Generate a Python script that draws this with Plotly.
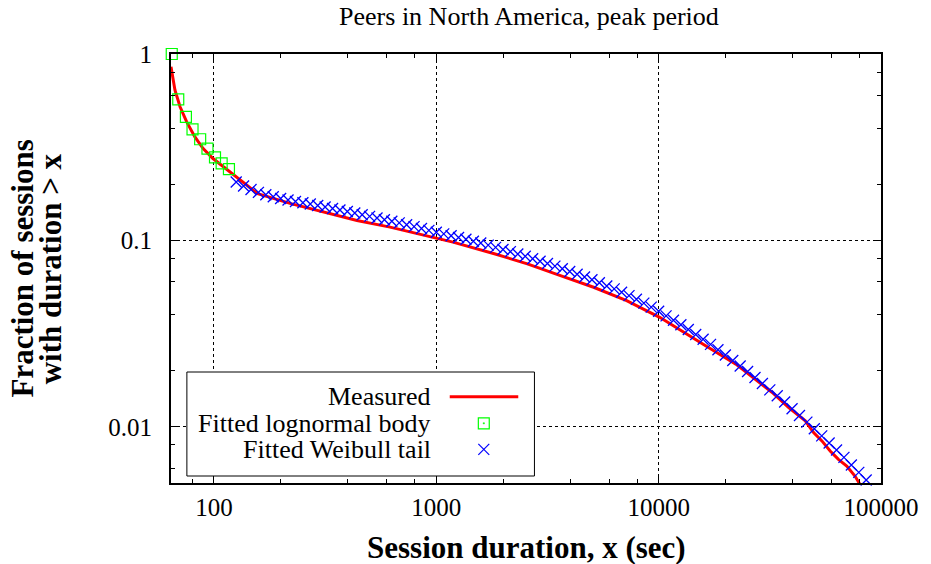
import math
import plotly.graph_objects as go

# ---------------- data ----------------
measured_x = [64.1, 66.8, 70.4, 75.4, 82.1, 89.4, 99.0, 108.0, 117.6, 128.0,
              157.3, 221.8, 312.2, 439.7, 619.6, 872.9, 1188, 1824, 2568, 3617,
              5098, 7180, 10110, 15795, 22247, 29750, 32430, 38470, 45670, 49750,
              54230, 59060, 64340, 70140, 76360, 81230]
measured_frac = [0.855, 0.640, 0.521, 0.4325, 0.359, 0.311, 0.275, 0.253, 0.233, 0.2147,
                 0.1782, 0.1575, 0.142, 0.128, 0.1179, 0.1064, 0.0979, 0.0848, 0.0749, 0.0648,
                 0.0561, 0.0476, 0.0387, 0.0278, 0.0217, 0.01656, 0.01529, 0.01270, 0.01077, 0.00932,
                 0.00841, 0.00743, 0.0067, 0.00617, 0.00545, 0.00482]

lognormal_x = [64.6, 69.1, 74.8, 80.1, 86.7, 93.5, 101.1, 108.3, 116.8]
lognormal_frac = [1.0, 0.571, 0.460, 0.394, 0.349, 0.311, 0.279, 0.259, 0.241]

weibull_x = [125.9, 135.9, 146.8, 158.5, 171.1, 184.8, 199.5, 215.4, 232.6, 251.2,
             271.2, 292.9, 316.2, 341.5, 368.7, 398.1, 429.9, 464.2, 501.2, 541.2,
             584.3, 631.0, 681.3, 735.6, 794.3, 857.7, 926.1,
             1000, 1080, 1166, 1259, 1359, 1468, 1585, 1711, 1848, 1995,
             2154, 2326, 2512, 2712, 2929, 3162, 3415, 3687, 3981, 4299,
             4642, 5012, 5412, 5843, 6310, 6813, 7356, 7943, 8577, 9261,
             10000, 10798, 11659, 12589, 13594, 14678, 15849, 17113, 18478, 19953,
             21544, 23263, 25119, 27123, 29286, 31623, 34145, 36869, 39811, 42987,
             46416, 50119, 54117, 58434, 63096, 68129, 73564, 79433, 85770]
weibull_frac = [0.2056, 0.1959, 0.1875, 0.1811, 0.1758, 0.1714, 0.1679, 0.1648, 0.1618, 0.1592,
                0.1567, 0.1538, 0.1510, 0.1483, 0.1455, 0.1429, 0.1403, 0.1374, 0.1346, 0.1318,
                0.1291, 0.1268, 0.1242, 0.1213, 0.1186, 0.1159, 0.1132, 0.1107,
                0.1084, 0.1059, 0.1038, 0.1014, 0.0991, 0.0968, 0.0944, 0.0918, 0.0895, 0.0871,
                0.0845, 0.0822, 0.0798, 0.0774, 0.0752, 0.0728, 0.0705, 0.0682, 0.0659, 0.0637,
                0.0615, 0.0593, 0.0570, 0.0550, 0.0527, 0.0506, 0.0484, 0.0461, 0.0439, 0.0417,
                0.0394, 0.0373, 0.0353, 0.0333, 0.0313, 0.0295, 0.0277, 0.0259, 0.0243, 0.0227,
                0.0212, 0.0198, 0.0184, 0.0171, 0.0158, 0.0147, 0.0136, 0.0125, 0.0115, 0.0106,
                0.00977, 0.00895, 0.00820, 0.00752, 0.00686, 0.00625, 0.00570, 0.00519]

x_tick_vals = [100, 1000, 10000, 100000]
x_tick_text = ["100", "1000", "10000", "100000"]
x_minor_vals = [80, 200, 400, 600, 800, 2000, 4000, 6000, 8000,
                20000, 40000, 60000, 80000]
y_tick_vals = [0.01, 0.1, 1]
y_tick_text = ["0.01", "0.1", "1"]
y_minor_vals = [0.006, 0.008, 0.02, 0.04, 0.06, 0.08, 0.2, 0.4, 0.6, 0.8]

x_range = [64.1, 100000]
y_range = [0.005, 1]

series_names = ["Measured", "Fitted lognormal body", "Fitted Weibull tail"]
title_text = "Peers in North America, peak period"
x_title = "Session duration, x (sec)"
y_title_lines = ["Fraction of sessions", "with duration > x"]

# ---------------- styles ----------------
FONT = "Liberation Serif, Times New Roman, serif"
RED = "#ff0000"
GREEN = "#00ff00"
BLUE = "#0000ff"

W, H = 931, 564
ML, MR, MT, MB = 171, 45, 54, 81
PW, PH = W - ML - MR, H - MT - MB


def px_x(px):
    return (px - ML) / PW


def px_y(py):
    return (H - MB - py) / PH


fig = go.Figure()

fig.add_trace(go.Scatter(x=measured_x, y=measured_frac, mode="lines",
                         line=dict(color=RED, width=3), name=series_names[0],
                         showlegend=False))
fig.add_trace(go.Scatter(x=lognormal_x, y=lognormal_frac, mode="markers",
                         marker=dict(symbol="square-open", size=11, color=GREEN,
                                     line=dict(color=GREEN, width=1.2)),
                         name=series_names[1], showlegend=False, cliponaxis=False))
fig.add_trace(go.Scatter(x=weibull_x, y=weibull_frac, mode="markers",
                         marker=dict(symbol="x-thin", size=11, color=BLUE,
                                     line=dict(color=BLUE, width=1.3)),
                         name=series_names[2], showlegend=False, cliponaxis=False))

# ---- custom key (text right-aligned, samples on the right, like gnuplot) ----
key_rows_py = [396.7, 423.3, 449.3]
key_text_px = 435
sample_px = [451.7, 520.7]
sample_mid_px = 486
half = 5.5

shapes = [
    dict(type="rect", xref="paper", yref="paper",
         x0=px_x(187), x1=px_x(537), y0=px_y(476), y1=px_y(372),
         line=dict(color="black", width=1), fillcolor="white", layer="above"),
    dict(type="line", xref="paper", yref="paper",
         x0=px_x(sample_px[0]), x1=px_x(sample_px[1]),
         y0=px_y(key_rows_py[0]), y1=px_y(key_rows_py[0]),
         line=dict(color=RED, width=3), layer="above"),
    dict(type="rect", xref="paper", yref="paper",
         x0=px_x(sample_mid_px - half), x1=px_x(sample_mid_px + half),
         y0=px_y(key_rows_py[1] + half), y1=px_y(key_rows_py[1] - half),
         line=dict(color=GREEN, width=1.2), fillcolor="rgba(0,0,0,0)", layer="above"),
    dict(type="rect", xref="paper", yref="paper",
         x0=px_x(sample_mid_px - 0.6), x1=px_x(sample_mid_px + 0.6),
         y0=px_y(key_rows_py[1] + 0.6), y1=px_y(key_rows_py[1] - 0.6),
         line=dict(color=GREEN, width=0.5), fillcolor=GREEN, layer="above"),
    dict(type="line", xref="paper", yref="paper",
         x0=px_x(sample_mid_px - half), x1=px_x(sample_mid_px + half),
         y0=px_y(key_rows_py[2] + half), y1=px_y(key_rows_py[2] - half),
         line=dict(color=BLUE, width=1.2), layer="above"),
    dict(type="line", xref="paper", yref="paper",
         x0=px_x(sample_mid_px - half), x1=px_x(sample_mid_px + half),
         y0=px_y(key_rows_py[2] - half), y1=px_y(key_rows_py[2] + half),
         line=dict(color=BLUE, width=1.2), layer="above"),
]

annotations = []
for name, py in zip(series_names, key_rows_py):
    annotations.append(dict(text=name, xref="paper", yref="paper",
                            x=px_x(key_text_px), y=px_y(py), xanchor="right",
                            yanchor="middle", showarrow=False,
                            font=dict(family=FONT, size=26, color="black")))

annotations.append(dict(text=x_title, xref="paper", yref="paper", x=0.5, y=px_y(547),
                        xanchor="center", yanchor="middle", showarrow=False,
                        font=dict(family=FONT, size=31, color="black", weight="bold")))
for line, cx in zip(y_title_lines, [21, 50]):
    annotations.append(dict(text=line, xref="paper", yref="paper", x=px_x(cx), y=0.5,
                            xanchor="center", yanchor="middle", textangle=-90,
                            showarrow=False,
                            font=dict(family=FONT, size=31, color="black", weight="bold")))

axis_common = dict(
    showline=True, linecolor="black", linewidth=2, mirror="ticks",
    ticks="inside", ticklen=8, tickwidth=1, tickcolor="black",
    showgrid=True, gridcolor="black", griddash="dot", gridwidth=1,
    zeroline=False, tickfont=dict(family=FONT, size=25, color="black"),
)

fig.update_layout(
    width=W, height=H, autosize=False,
    margin=dict(l=ML, r=MR, t=MT, b=MB),
    paper_bgcolor="white", plot_bgcolor="white",
    title=dict(text=title_text, x=0.5 + 3 / PW, xref="paper", xanchor="center",
               y=(H - 16) / H, yanchor="middle",
               font=dict(family=FONT, size=26, color="black")),
    xaxis=dict(type="log", range=[math.log10(x_range[0]), math.log10(x_range[1])],
               tickmode="array", tickvals=x_tick_vals, ticktext=x_tick_text,
               ticklabelstandoff=1,
               minor=dict(tickmode="array", tickvals=x_minor_vals, ticks="inside",
                          ticklen=4, tickwidth=1, tickcolor="black", showgrid=False),
               **axis_common),
    yaxis=dict(type="log", range=[math.log10(y_range[0]), math.log10(y_range[1])],
               tickmode="array", tickvals=y_tick_vals, ticktext=y_tick_text,
               ticklabelstandoff=12,
               minor=dict(tickmode="array", tickvals=y_minor_vals, ticks="inside",
                          ticklen=4, tickwidth=1, tickcolor="black", showgrid=False),
               **axis_common),
    shapes=shapes,
    annotations=annotations,
    showlegend=False,
)

fig.write_html("out.html", config={"displayModeBar": False},
               post_script="document.body.style.margin='0';document.body.style.padding='0';"
                           "document.body.style.overflow='hidden';")
